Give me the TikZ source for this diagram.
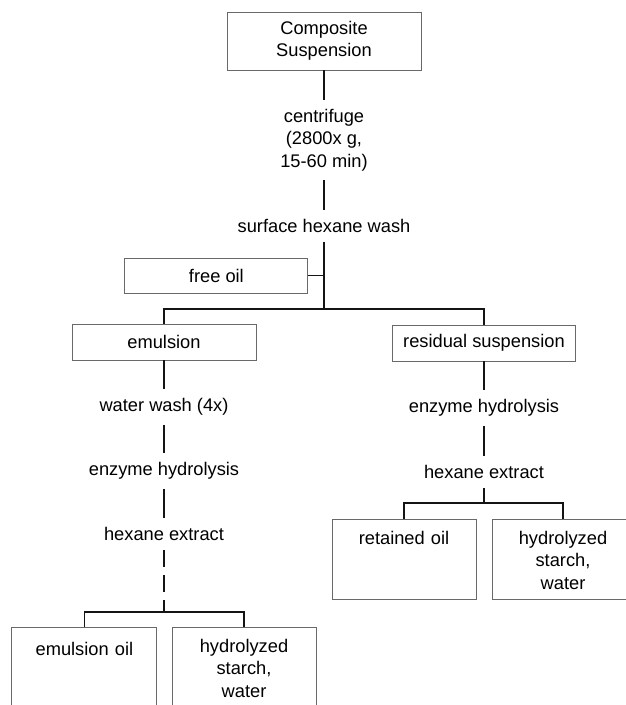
\documentclass[tikz,border=0pt]{standalone}
\usepackage{fontspec}
\setmainfont{Liberation Sans}
\usepackage{tikz}
\usetikzlibrary{positioning, calc}
\definecolor{mydark}{RGB}{20,20,20}
\definecolor{boxgray}{RGB}{105,105,105}
\tikzset{
  procbox/.style={rectangle, draw=boxgray, line width=0.7pt,
    align=center, inner sep=0pt},
  stepnode/.style={align=center, inner xsep=2pt, inner ysep=0.225cm},
  outbox/.style={rectangle, draw=boxgray, line width=0.7pt, anchor=north,
    align=center, inner sep=0pt, text height=0.62cm},
  line/.style={line width=1.2pt, color=mydark},
  dashline/.style={line width=1.2pt, color=mydark, dash pattern=on 0.43cm off 0.2cm}
}

\begin{document}
\begin{tikzpicture}[font=\fontsize{13}{16}\selectfont]
  \useasboundingbox (0,0) rectangle (15.65,-17.625);

  % Top of the scheme
  \node[procbox, minimum width=4.85cm, minimum height=1.45cm] (comp) at (8.1,-1.025) {Composite\\Suspension};
  \node[stepnode] (cfg) at (8.1,-3.5) {centrifuge\\(2800x g,\\15-60 min)};
  \node[stepnode] (shw) at (8.1,-5.65) {surface hexane wash};
  \node[procbox, minimum width=4.575cm, minimum height=0.875cm] (free) at (5.41,-6.89) {free oil};
  \coordinate (split) at (8.1,-7.725);

  % Two fractions
  \node[procbox, minimum width=4.6cm, minimum height=0.9cm] (emul) at (4.1,-8.55) {emulsion};
  \node[procbox, minimum width=4.575cm, minimum height=0.9cm] (resid) at (12.1,-8.575) {residual suspension};

  % Emulsion branch
  \node[stepnode] (ww) at (4.1,-10.175) {water wash (4x)};
  \node[stepnode] (ehl) at (4.1,-11.775) {enzyme hydrolysis};
  \node[stepnode] (hel) at (4.1,-13.35) {hexane extract};
  \coordinate (lsplit) at (4.1,-15.3);
  \node[outbox, text width=3.625cm, text height=0.7cm, text depth=2cm] (eo) at (2.11,-15.675) {emulsion oil};
  \node[outbox, text width=3.6cm, text depth=1.6cm] (hsl) at (6.1,-15.675) {hydrolyzed\\starch,\\water};

  % Residual branch
  \node[stepnode] (ehr) at (12.1,-10.2) {enzyme hydrolysis};
  \node[stepnode] (her) at (12.1,-11.8) {hexane extract};
  \coordinate (rsplit) at (12.1,-12.575);
  \node[outbox, text width=3.6cm, text depth=1.38cm] (ro) at (10.1,-12.975) {retained oil};
  \node[outbox, text width=3.55cm, text depth=1.38cm] (hsr) at (14.075,-12.975) {hydrolyzed\\starch,\\water};

  % Connections
  \draw[line] (comp) -- (cfg);
  \draw[line] (cfg) -- (shw);
  \draw[line] (shw) -- (split);
  \draw[line] (free) -- (free -| split);
  \draw[line] (emul) |- (split) -| (resid);

  \draw[line] (emul) -- (ww);
  \draw[line] (ww) -- (ehl);
  \draw[line] (ehl) -- (hel);
  \draw[dashline] (hel) -- (lsplit);
  \draw[line] (eo) |- (lsplit) -| (hsl);

  \draw[line] (resid) -- (ehr);
  \draw[line] (ehr) -- (her);
  \draw[line] (her) -- (rsplit);
  \draw[line] (ro) |- (rsplit) -| (hsr);
\end{tikzpicture}
\end{document}
